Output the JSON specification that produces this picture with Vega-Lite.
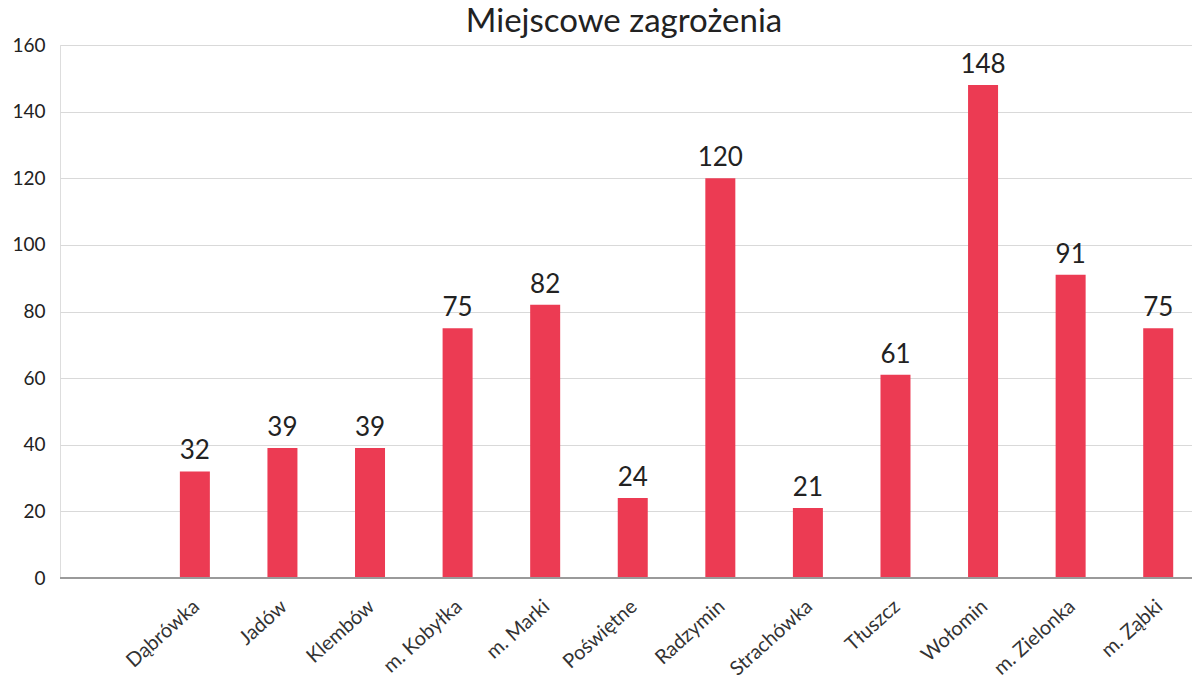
{
  "$schema": "https://vega.github.io/schema/vega-lite/v6.json",
  "autosize": "none",
  "width": 1142,
  "height": 533,
  "padding": {"left": 60, "top": 45, "right": 0, "bottom": 111},
  "background": "white",
  "title": {
    "text": "Miejscowe zagrożenia",
    "font": "Lato",
    "fontSize": 33,
    "fontWeight": "normal",
    "color": "#222222",
    "anchor": "middle",
    "baseline": "alphabetic",
    "frame": "group",
    "offset": 10,
    "dx": -7,
    "dy": 39
  },
  "data": {
    "values": [
      {"gmina": "Dąbrówka", "liczba": 32},
      {"gmina": "Jadów", "liczba": 39},
      {"gmina": "Klembów", "liczba": 39},
      {"gmina": "m. Kobyłka", "liczba": 75},
      {"gmina": "m. Marki", "liczba": 82},
      {"gmina": "Poświętne", "liczba": 24},
      {"gmina": "Radzymin", "liczba": 120},
      {"gmina": "Strachówka", "liczba": 21},
      {"gmina": "Tłuszcz", "liczba": 61},
      {"gmina": "Wołomin", "liczba": 148},
      {"gmina": "m. Zielonka", "liczba": 91},
      {"gmina": "m. Ząbki", "liczba": 75}
    ]
  },
  "encoding": {
    "x": {
      "field": "gmina",
      "type": "nominal",
      "sort": null,
      "scale": {"paddingInner": 0, "paddingOuter": 0.52, "align": 1},
      "axis": {
        "title": null,
        "domain": false,
        "ticks": false,
        "labelAngle": -42,
        "labelFont": "Lato",
        "labelFontSize": 20,
        "labelColor": "#333333",
        "labelPadding": 18,
        "labelOffset": -5
      }
    }
  },
  "layer": [
    {
      "mark": {"type": "bar", "color": "#ec3b53", "size": 30},
      "encoding": {
        "y": {
          "field": "liczba",
          "type": "quantitative",
          "scale": {"domain": [0, 160], "nice": false},
          "axis": {
            "title": null,
            "values": [0, 20, 40, 60, 80, 100, 120, 140, 160],
            "domain": false,
            "ticks": false,
            "grid": true,
            "gridColor": "#d9d9d9",
            "gridWidth": 1,
            "labelFont": "Lato",
            "labelFontSize": 19,
            "labelColor": "#222222",
            "labelPadding": 15
          }
        }
      }
    },
    {
      "mark": {"type": "rule", "color": "#9a9a9a", "strokeWidth": 1.2},
      "encoding": {"y": {"datum": 0}, "x": null}
    },
    {
      "mark": {"type": "text", "font": "Lato", "fontSize": 26, "color": "#222222", "baseline": "alphabetic", "dy": -12},
      "encoding": {
        "y": {"field": "liczba", "type": "quantitative"},
        "text": {"field": "liczba", "type": "quantitative"}
      }
    }
  ]
}
